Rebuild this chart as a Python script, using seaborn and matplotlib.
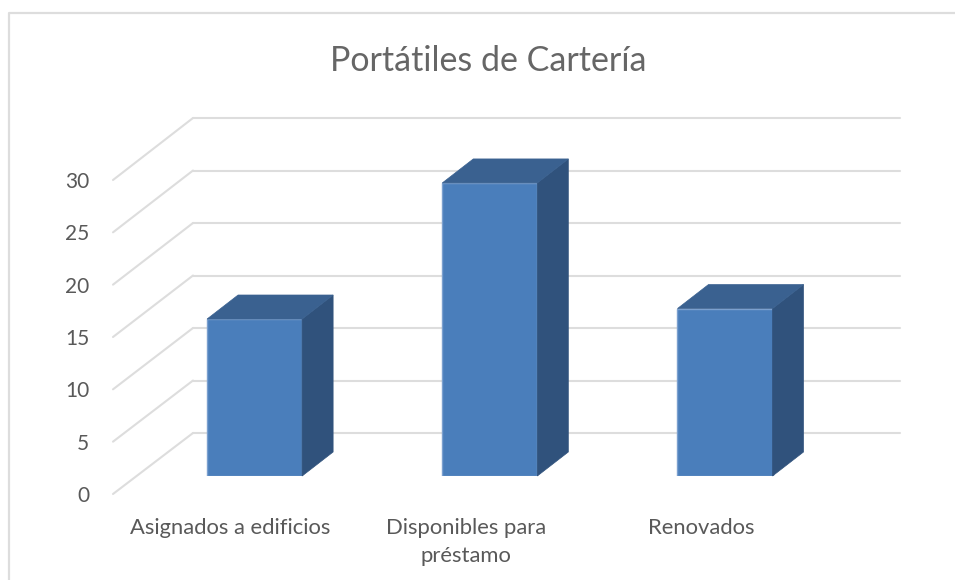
import matplotlib
matplotlib.use("Agg")
import matplotlib.pyplot as plt
from matplotlib.lines import Line2D
from matplotlib.patches import Polygon
from matplotlib.transforms import IdentityTransform
import pandas as pd
import seaborn as sns

title = "Portátiles de Cartería"
categories = ["Asignados a edificios", "Disponibles para\npréstamo", "Renovados"]
values = [15, 28, 16]
y_ticks = [0, 5, 10, 15, 20, 25, 30]

W, H = 955, 580
TEXT = "#595959"
GRID = "#dddddd"
FRONT = "#4a7ebb"
EDGE = "#7ba0cf"
SIDE = "#30527c"
TOP = "#3a6190"
DX, DY = 31, 24  # bar depth in pixels

sns.set_theme(style="white")
plt.rcParams["font.family"] = ["Lato", "DejaVu Sans"]


def axes_px(x0, x1, ytop, ybot, **kw):
    return fig.add_axes([x0 / W, 1 - ybot / H, (x1 - x0) / W, (ybot - ytop) / H], **kw)


fig = plt.figure(figsize=(W / 100, H / 100), dpi=100, facecolor="white")

# back wall with gridlines
back = axes_px(193, 900, 118, 433, zorder=1)
back.set_xlim(0, 1)
back.set_ylim(min(y_ticks), max(y_ticks))
back.set_yticks(y_ticks)
back.set_xticks([])
back.tick_params(left=False, labelleft=False)
back.grid(axis="y", color=GRID, lw=1.5)
back.patch.set_alpha(0)
sns.despine(ax=back, left=True, bottom=True)
back.spines["top"].set_visible(False)
for line in back.get_ygridlines():
    line.set_clip_on(False)

# front plane: axis labels
front = axes_px(113, 819, 180, 494, zorder=2)
front.set_xlim(-0.5, 2.5)
front.set_ylim(min(y_ticks), max(y_ticks))
front.set_yticks(y_ticks)
front.set_yticklabels([str(v) for v in y_ticks])
front.set_xticks(range(len(categories)))
front.set_xticklabels(categories, linespacing=1.53, va="top")
front.tick_params(axis="y", left=False, labelsize=15, labelcolor=TEXT, pad=11)
front.tick_params(axis="x", bottom=False, labelsize=15.8, labelcolor=TEXT, pad=11)
front.patch.set_alpha(0)
sns.despine(ax=front, left=True, bottom=True)

# floor and wall diagonals joining the front plane to the back wall
for v in y_ticks:
    p0 = front.transData.transform((-0.5, v))
    p1 = back.transData.transform((0, v))
    fig.add_artist(Line2D([p0[0], p1[0]], [p0[1], p1[1]], color=GRID, lw=1.5,
                          transform=IdentityTransform()))

# bars
bars = axes_px(137, 842.6, 162, 476, zorder=3)
df = pd.DataFrame({"categoria": categories, "valor": values})
sns.barplot(data=df, x="categoria", y="valor", ax=bars, color=FRONT, saturation=1,
            width=0.404, edgecolor=EDGE, linewidth=1)
bars.set_xlim(-0.5, 2.5)
bars.set_ylim(0, 30)
bars.axis("off")

for patch in bars.patches:
    x, w, h = patch.get_x(), patch.get_width(), patch.get_height()
    x_l, y_b = bars.transData.transform((x, 0))
    x_r, y_t = bars.transData.transform((x + w, h))
    bars.add_patch(Polygon([(x_r, y_b), (x_r + DX, y_b + DY), (x_r + DX, y_t + DY), (x_r, y_t)],
                           closed=True, facecolor=SIDE, edgecolor=SIDE, lw=0.5,
                           transform=IdentityTransform(), clip_on=False))
    bars.add_patch(Polygon([(x_l, y_t), (x_l + DX, y_t + DY), (x_r + DX, y_t + DY), (x_r, y_t)],
                           closed=True, facecolor=TOP, edgecolor=TOP, lw=0.5,
                           transform=IdentityTransform(), clip_on=False))

# chart border (left and top only are visible)
fig.add_artist(Line2D([9 / W, 9 / W, 1], [0, 1 - 13 / H, 1 - 13 / H], color=GRID, lw=1.6,
                      transform=fig.transFigure))

fig.suptitle(title, x=488 / W, y=1 - 61 / H, va="center", ha="center",
             fontsize=24.5, color="#666666", fontweight="normal")

fig.savefig("out.png", dpi=100)
